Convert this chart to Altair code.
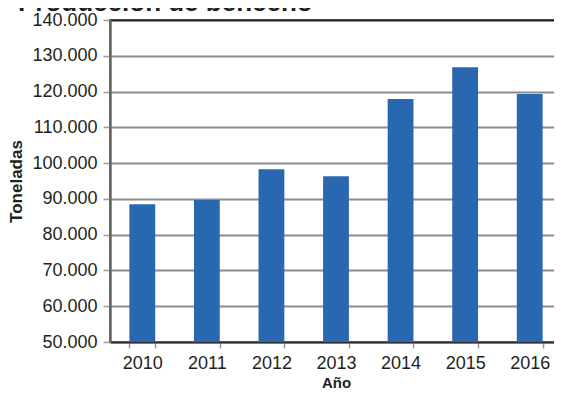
import altair as alt
import pandas as pd

years = ["2010", "2011", "2012", "2013", "2014", "2015", "2016"]
toneladas = [88500, 89700, 98300, 96300, 117900, 126800, 119300]
y_ticks = [50000, 60000, 70000, 80000, 90000, 100000, 110000, 120000, 130000, 140000]

df = pd.DataFrame({"Año": years, "Toneladas": toneladas})

FONT = "Liberation Sans"
TXT = "#231f20"

chart = alt.Chart(df).mark_bar(color="#2a67b1", clip=True).encode(
    x=alt.X("Año:N", sort=years,
            scale=alt.Scale(paddingInner=0.6, paddingOuter=0.3),
            axis=alt.Axis(title="Año", labelAngle=0, labelFont=FONT, labelFontSize=18,
                          labelColor=TXT, labelPadding=6, tickBand="extent",
                          tickSize=6, tickColor="#9a9a9a", tickWidth=1.5,
                          domainColor="#333333", domainWidth=2,
                          titleFont=FONT, titleFontSize=15, titleFontWeight="bold",
                          titleColor=TXT, titlePadding=3)),
    y=alt.Y("Toneladas:Q",
            scale=alt.Scale(domain=[50000, 140000], nice=False, zero=False),
            axis=alt.Axis(title="Toneladas", values=y_ticks,
                          labelExpr="replace(format(datum.value, ','), ',', '.')",
                          labelFont=FONT, labelFontSize=18, labelColor=TXT,
                          labelPadding=6, tickSize=7, tickColor="#9a9a9a", tickWidth=1.5,
                          domainColor="#666666", domainWidth=2.5,
                          grid=True,
                          gridColor=alt.condition("datum.value == 140000", alt.value("#222222"), alt.value("#8c8c8c")),
                          gridWidth=2.2,
                          titleFont=FONT, titleFontSize=17, titleFontWeight="bold",
                          titleColor=TXT, titlePadding=6)),
).properties(
    width=452,
    height=322,
    title=alt.TitleParams("Producción de benceno", anchor="start", frame="group",
                          font=FONT, fontSize=26, fontWeight="bold", color=TXT,
                          baseline="alphabetic", dx=-92, dy=26, offset=0),
    autosize=alt.AutoSizeParams(type="none"),
    padding={"left": 102, "top": 12, "right": -8, "bottom": 52},
).configure_view(
    stroke="#666666", strokeWidth=2
)

chart.save("out.html", embed_options={"renderer": "svg", "actions": False})
